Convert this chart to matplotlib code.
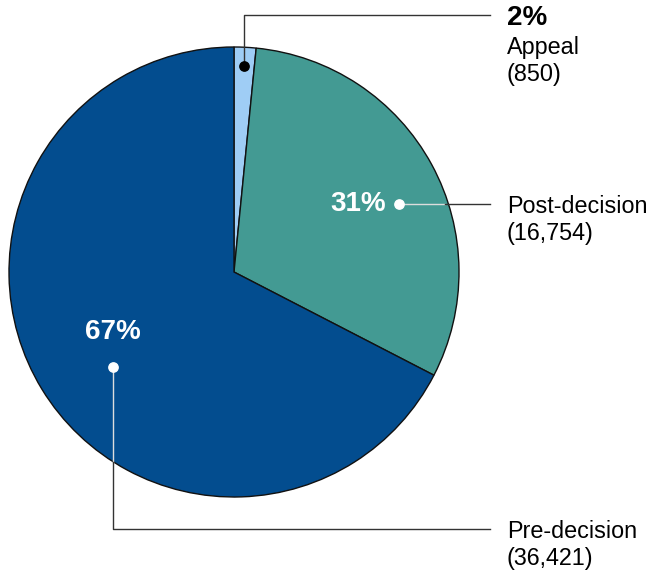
import matplotlib
matplotlib.use("Agg")
import matplotlib.pyplot as plt

plt.rcParams['font.family'] = ['Liberation Sans', 'DejaVu Sans']

categories = ["Appeal", "Post-decision", "Pre-decision"]
counts = [850, 16754, 36421]
pct_labels = ["2%", "31%", "67%"]
count_labels = ["(850)", "(16,754)", "(36,421)"]
colors = ["#9fcdf5", "#439a93", "#034d8f"]

W, H = 650, 574
fig = plt.figure(figsize=(W / 100, H / 100), dpi=100)
ax = fig.add_axes([0, 0, 1, 1])

def Y(y):
    return H - y

cx, cy, R = 234, 272, 225
ax.pie(counts, colors=colors, startangle=90, counterclock=False,
       center=(cx, Y(cy)), radius=R,
       wedgeprops=dict(edgecolor="#111111", linewidth=1.0))
ax.set_xlim(0, W)
ax.set_ylim(0, H)
ax.set_aspect('equal')
ax.axis('off')

line_dark = "#333333"
line_light = "#dddddd"
tx = 507
fs = 16.8
fsb = 20
ls = 1.22

# Appeal
ax.plot([244, 244, 490], [Y(66), Y(15), Y(15)], color=line_dark, lw=1.0, zorder=3)
ax.scatter([244], [Y(66)], s=45, color="black", zorder=4)
ax.text(tx, Y(18), pct_labels[0], fontsize=fsb, fontweight='bold', va='center', ha='left')
ax.text(tx, Y(61), categories[0] + "\n" + count_labels[0], fontsize=fs, va='center', ha='left', linespacing=ls)

# Post-decision
ax.plot([399, 445], [Y(204), Y(204)], color=line_light, lw=1.0, zorder=3)
ax.plot([445, 490], [Y(204), Y(204)], color=line_dark, lw=1.0, zorder=3)
ax.scatter([399], [Y(204)], s=45, color="white", zorder=4)
ax.text(358, Y(204), pct_labels[1], fontsize=fsb, fontweight='bold', color='white', va='center', ha='center')
ax.text(tx, Y(220), categories[1] + "\n" + count_labels[1], fontsize=fs, va='center', ha='left', linespacing=ls)

# Pre-decision
ax.plot([113, 113], [Y(367), Y(462)], color=line_light, lw=1.0, zorder=3)
ax.plot([113, 113, 490], [Y(462), Y(529), Y(529)], color=line_dark, lw=1.0, zorder=3)
ax.scatter([113], [Y(367)], s=45, color="white", zorder=4)
ax.text(113, Y(332), pct_labels[2], fontsize=fsb, fontweight='bold', color='white', va='center', ha='center')
ax.text(tx, Y(545), categories[2] + "\n" + count_labels[2], fontsize=fs, va='center', ha='left', linespacing=ls)

fig.savefig("out.png", dpi=100)
